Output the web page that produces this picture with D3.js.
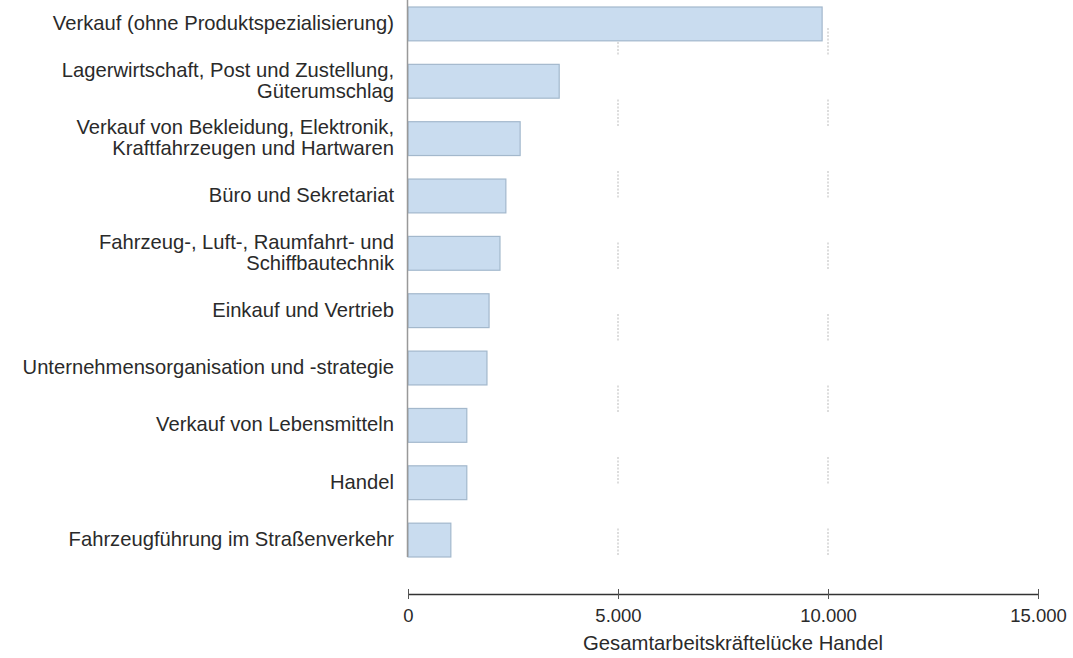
<!DOCTYPE html>
<html>
<head>
<meta charset="utf-8">
<script src="https://cdn.jsdelivr.net/npm/d3@7"></script>
<style>
  html, body { margin: 0; padding: 0; background: #fff; }
  svg { display: block; font-family: "Liberation Sans", Arial, sans-serif; }
</style>
</head>
<body>
<svg id="chart" width="1073" height="658"></svg>
<script>
const categories = [
  "Verkauf (ohne Produktspezialisierung)",
  "Lagerwirtschaft, Post und Zustellung,|Güterumschlag",
  "Verkauf von Bekleidung, Elektronik,|Kraftfahrzeugen und Hartwaren",
  "Büro und Sekretariat",
  "Fahrzeug-, Luft-, Raumfahrt- und|Schiffbautechnik",
  "Einkauf und Vertrieb",
  "Unternehmensorganisation und -strategie",
  "Verkauf von Lebensmitteln",
  "Handel",
  "Fahrzeugführung im Straßenverkehr"
];
const values = [9860, 3600, 2670, 2330, 2190, 1930, 1880, 1400, 1400, 1020];
const xTicks = [0, 5000, 10000, 15000];
const xTickLabels = ["0", "5.000", "10.000", "15.000"];
const xTitle = "Gesamtarbeitskräftelücke Handel";

const svg = d3.select("#chart");
const x = d3.scaleLinear().domain([0, 15000]).range([408, 1038]);
const y = d3.scaleBand().domain(categories).range([7, 557]).paddingInner(0.41).paddingOuter(0);

// grid
svg.append("g").selectAll("line").data([5000, 10000]).join("line")
  .attr("x1", d => x(d)).attr("x2", d => x(d))
  .attr("y1", 0).attr("y2", 590)
  .attr("stroke", "#bbb").attr("stroke-width", 1)
  .attr("stroke-dasharray", "2,1.5,2,1.5,2,1.5,2,1.5,2,1.5,2,1.5,2,1.5,2,45")
  .attr("stroke-dashoffset", -28);

// bars
svg.append("g").selectAll("rect").data(values).join("rect")
  .attr("x", x(0))
  .attr("y", (d, i) => y(categories[i]))
  .attr("width", d => x(d) - x(0))
  .attr("height", y.bandwidth())
  .attr("fill", "#c9dcef")
  .attr("stroke", "#a3b8cc")
  .attr("stroke-width", 1.2);

// y axis line
svg.append("line")
  .attr("x1", x(0) - 0.5).attr("x2", x(0) - 0.5)
  .attr("y1", 0).attr("y2", 557)
  .attr("stroke", "#999").attr("stroke-width", 1.5);

// category labels
const lab = svg.append("g").selectAll("text").data(categories).join("text")
  .attr("text-anchor", "end")
  .attr("font-size", 20.2)
  .attr("fill", "#2a2a2a");
lab.each(function(d) {
  const lines = d.split("|");
  const cy = y(d) + y.bandwidth() / 2;
  const lh = 21;
  const t = d3.select(this);
  lines.forEach((ln, j) => {
    t.append("tspan")
      .attr("x", 394)
      .attr("y", cy + (j - (lines.length - 1) / 2) * lh + 6)
      .text(ln);
  });
});

// x axis
const xAxis = d3.axisBottom(x).tickValues(xTicks)
  .tickFormat((d, i) => xTickLabels[i]).tickSize(6).tickSizeOuter(0).tickPadding(6);
const gx = svg.append("g").attr("transform", "translate(0,594)").call(xAxis);
gx.select(".domain").attr("stroke", "#333").attr("stroke-width", 1.5);
gx.selectAll(".tick line").attr("stroke", "#555").attr("y1", -5).attr("y2", 5);
gx.selectAll(".tick text").attr("font-size", 18.5).attr("fill", "#2a2a2a")
  .attr("font-family", "'Liberation Sans', Arial, sans-serif")
  .attr("dy", null).attr("y", 28);

svg.append("text")
  .attr("x", 733).attr("y", 650)
  .attr("text-anchor", "middle")
  .attr("font-size", 20.3)
  .attr("fill", "#2a2a2a")
  .text(xTitle);
</script>
</body>
</html>
